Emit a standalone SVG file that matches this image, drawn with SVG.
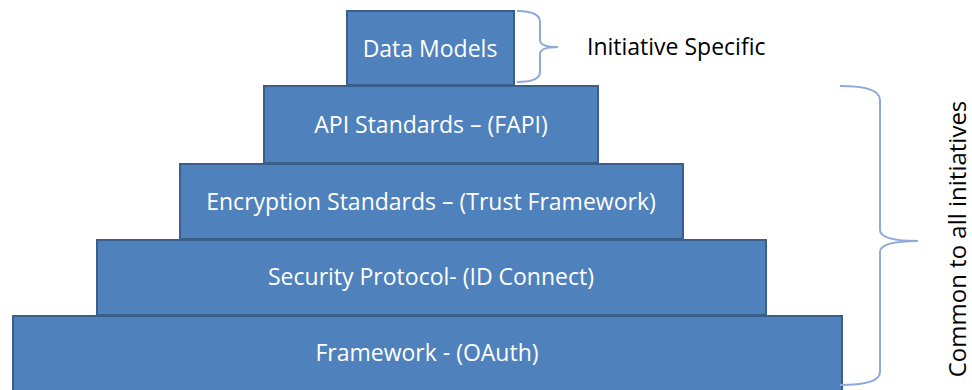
<svg xmlns="http://www.w3.org/2000/svg" width="972" height="390" viewBox="0 0 972 390">
  <style>
    .tier { fill: #4F81BD; stroke: #3A5F8C; stroke-width: 2; }
    .tier-label { font-family: "Open Sans", Lato, sans-serif; font-size: 23px; fill: #FFFFFF; text-anchor: middle; }
    .brace { fill: none; stroke: #8EAADB; stroke-width: 2; }
    .note { font-family: "Open Sans", Lato, sans-serif; font-size: 23px; fill: #000000; }
  </style>
  <rect width="972" height="390" fill="#FFFFFF"/>

  <g id="framework">
    <rect class="tier" x="13" y="316" width="829" height="76"/>
    <text class="tier-label" x="427" y="361">Framework - (OAuth)</text>
  </g>
  <g id="security-protocol">
    <rect class="tier" x="97" y="240" width="669" height="75"/>
    <text class="tier-label" x="431" y="285">Security Protocol- (ID Connect)</text>
  </g>
  <g id="encryption-standards">
    <rect class="tier" x="180" y="164" width="503" height="75"/>
    <text class="tier-label" x="431" y="210">Encryption Standards – (Trust Framework)</text>
  </g>
  <g id="api-standards">
    <rect class="tier" x="264" y="86" width="334" height="77"/>
    <text class="tier-label" x="431" y="133">API Standards – (FAPI)</text>
  </g>
  <g id="data-models">
    <rect class="tier" x="347" y="11" width="167" height="74"/>
    <text class="tier-label" x="430" y="57">Data Models</text>
  </g>

  <g id="connectors">
    <path class="brace" d="M517 11 Q540 11 540 22 L540 40 Q540 47 558 47 Q540 47 540 54 L540 72 Q540 82 517 82"/>
    <path class="brace" d="M840 86 Q880 86 880 100 L880 230 Q880 241 918 241 Q880 241 880 252 L880 372 Q880 385 840 385"/>
  </g>

  <g id="annotations">
    <text class="note" x="587" y="55">Initiative Specific</text>
    <text class="note" transform="translate(966 239) rotate(-90)" text-anchor="middle" style="font-size:24px">Common to all initiatives</text>
  </g>
</svg>
